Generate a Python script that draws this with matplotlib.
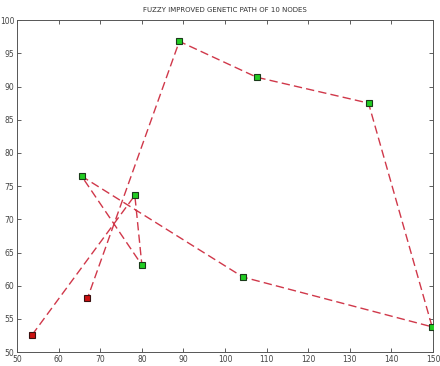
import matplotlib
matplotlib.use('Agg')
import matplotlib.pyplot as plt

plt.rcParams['font.family'] = ['Liberation Sans Narrow', 'DejaVu Sans']

# path of the 10 nodes, in visiting order (first and last are the red end nodes)
path_x = [53.6, 78.3, 80.0, 65.5, 104.3, 149.8, 134.5, 107.6, 89.0, 66.9]
path_y = [52.6, 73.6, 63.1, 76.5, 61.3, 53.8, 87.5, 91.4, 96.8, 58.1]

# nodes drawn in red (start / end)
red_idx = [0, 9]
title = 'FUZZY IMPROVED GENETIC PATH OF 10 NODES'

fig = plt.figure(figsize=(4.4, 3.66), dpi=100)
ax = fig.add_axes([0.039, 0.038, 0.945, 0.907])

ax.plot(path_x, path_y, linestyle=(0, (6, 3)), color='#d0384a', linewidth=1.0, zorder=2)

green_x = [x for i, x in enumerate(path_x) if i not in red_idx]
green_y = [y for i, y in enumerate(path_y) if i not in red_idx]
red_x = [path_x[i] for i in red_idx]
red_y = [path_y[i] for i in red_idx]

ax.plot(green_x, green_y, 's', markersize=4.5, markerfacecolor='#22cc22',
        markeredgecolor='#1a3a1a', markeredgewidth=0.8, zorder=3)
ax.plot(red_x, red_y, 's', markersize=4.5, markerfacecolor='#cc1111',
        markeredgecolor='#3a1010', markeredgewidth=0.8, zorder=3)

ax.set_xlim(50, 150)
ax.set_ylim(50, 100)
ax.set_xticks(range(50, 151, 10))
ax.set_yticks(range(50, 101, 5))
ax.tick_params(direction='in', length=3, width=0.6, labelsize=5.5,
               top=True, right=True, colors='#444444', pad=2)
for s in ax.spines.values():
    s.set_color('#555555')
    s.set_linewidth(0.7)

ax.set_title(title, fontsize=5, color='#333333', pad=6)

fig.savefig('out.png', dpi=100)
